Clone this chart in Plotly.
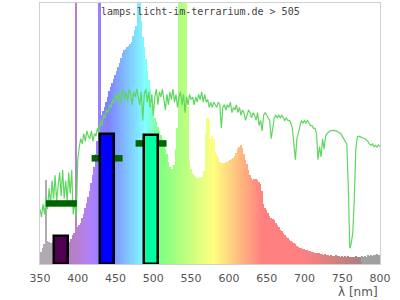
import plotly.graph_objects as go

# ---------------- data ----------------
wavelengths = list(range(350, 801, 2))

lamp_spectrum = [
    3.4, 4.5, 6, 7.5, 32, 9, 8.5, 8, 8, 8.5,            # 350-368
    8.5, 8.5, 8.5, 8.5, 8.5, 8.5, 8.5, 8.5, 8.5, 8.5,   # 370-388
    8.5, 9.5, 11, 12, 120, 14.3, 14.9, 15.8, 17.5, 19.3, # 390-408
    21.5, 23.5, 25.5, 28, 31, 34, 37, 42, 47, 120,      # 410-428
    120, 57, 58.8, 60, 62, 64, 66.3, 67.8, 69.3, 71,    # 430-448
    72.5, 74, 75.5, 77, 79, 81, 82, 82.5, 83, 83.5,     # 450-468
    84.3, 85.2, 87.5, 89.5, 91, 120, 120, 93, 87, 83,   # 470-488
    78.5, 74, 70.5, 67, 61, 58, 56, 54.5, 52.5, 51,     # 490-508
    49.5, 48, 46.5, 44, 42, 39, 37, 36.5, 36.4, 38,     # 510-528
    44, 52, 120, 120, 120, 120, 120, 120, 60, 40,       # 530-548
    36.5, 35, 34, 33.3, 33, 33, 33, 33.3, 33.5, 35.5,   # 550-568
    50, 56, 55, 48, 49, 48, 43, 41.8, 40.5, 39.2,       # 570-588
    38.8, 38.7, 38.8, 39, 39.2, 39.5, 39.8, 40.2, 40.6, 41.5,  # 590-608
    42.5, 44, 45, 45.5, 44.5, 42, 40, 38.5, 36, 34,     # 610-628
    33, 32.2, 32.4, 32.6, 32.2, 31.5, 30.5, 28, 23, 21.5,  # 630-648
    20.8, 19.5, 18.3, 17.5, 17.1, 16.7, 15.8, 15, 14, 13,  # 650-668
    12.5, 12, 11, 10.3, 9.8, 9.2, 8.7, 8.3, 8, 7.5,     # 670-688
    7, 6.6, 6.2, 6, 5.8, 5.6, 5.4, 5.3, 5.1, 4.9,       # 690-708
    4.7, 4.6, 4.4, 4.2, 4.1, 4.2, 3.8, 3.9, 3.5, 3.8,   # 710-728
    3.3, 3.6, 3.2, 3.5, 3.1, 3.0, 3.4, 2.9, 3.1, 2.8,   # 730-748
    3.2, 2.7, 3.0, 2.6, 2.9, 2.7, 2.5, 2.8, 2.6, 2.9,   # 750-768
    2.5, 2.8, 2.6, 3.0, 2.7, 3.1, 2.8, 3.3, 2.9, 3.4,   # 770-788
    3.0, 3.5, 3.3, 4.0, 3.5, 3.6,                       # 790-800
]

sun_spectrum = [
    21, 18, 23, 19, 26, 21, 29, 23, 32, 25,             # 350-368
    34, 24, 30, 35, 26, 36, 25, 32, 24, 35,             # 370-388
    27, 36, 19, 24, 18, 40, 45, 48, 46, 50,             # 390-408
    47, 51, 49, 48, 51, 47, 50, 49, 52, 50,             # 410-428
    55, 53, 57, 56, 59, 58, 61, 60, 63, 62,             # 430-448
    65, 63, 66, 61, 65, 67, 63, 66, 62, 67,             # 450-468
    65, 61, 66, 64, 67, 63, 61, 66, 55, 65,             # 470-488
    67, 62, 66, 60, 65, 57, 64, 67, 61, 66,             # 490-508
    64, 67, 62, 59, 65, 61, 66, 63, 67, 62,             # 510-528
    65, 60, 64, 66, 61, 65, 58, 64, 61, 65,             # 530-548
    63, 64, 61, 64, 62, 65, 63, 66, 62, 65,             # 550-568
    62, 63, 60, 62, 60, 62, 61, 60, 62, 61,             # 570-588
    52, 60, 61, 59, 61, 60, 62, 58, 60, 59,             # 590-608
    61, 58, 60, 57, 59, 58, 55, 57, 59, 58,             # 610-628
    56, 58, 57, 55, 58, 53, 55, 51, 57, 58,             # 630-648
    57, 56, 55, 48, 52, 56, 57, 56, 57, 56,             # 650-668
    57, 56, 55, 56, 55, 55, 54, 52, 45, 40,             # 670-688
    48, 50, 52, 55, 54, 55, 54, 55, 54, 53,             # 690-708
    53, 52, 52, 50, 40, 45, 41, 48, 44, 49,             # 710-728
    50, 50.5, 51, 51, 51.3, 51, 51, 50.7, 50.5, 50,     # 730-748
    49, 48, 47, 46, 30, 6, 8, 12, 25, 44,               # 750-768
    48.7, 49, 48.7, 48.5, 48.3, 48, 47.5, 47, 46, 45.5, # 770-788
    46, 45, 45.5, 44.8, 45.6, 45,                       # 790-800
]

band_centers = [378.3, 438.8, 497.0]
band_values = [10.6, 50.0, 49.6]
band_colors = ["#500050", "#0000ff", "#00ffa0"]
marker_values = [23.2, 40.5, 46.2]

tick_values = [350, 400, 450, 500, 550, 600, 650, 700, 750, 800]
tick_labels = ["350", "400", "450", "500", "550", "600", "650", "700", "750", "800"]

title_text = "lamps.licht-im-terrarium.de &gt; 505"
axis_title = "λ [nm]"

# ---------------- styling helpers ----------------
def wl_color(w):
    if w < 380:
        return "rgb(178,170,178)"
    if w >= 776:
        return "rgb(160,160,160)"
    if w < 440:
        r, g, b = (440 - w) / 60, 0, 1
    elif w < 490:
        r, g, b = 0, (w - 440) / 50, 1
    elif w < 510:
        r, g, b = 0, 1, (510 - w) / 20
    elif w < 580:
        r, g, b = (w - 510) / 70, 1, 0
    elif w < 645:
        r, g, b = 1, (645 - w) / 65, 0
    else:
        r, g, b = 1, 0, 0
    if w < 420:
        f = 0.3 + 0.7 * (w - 380) / 40
    elif w > 700:
        f = 0.3 + 0.7 * (780 - w) / 80
    else:
        f = 1.0
    return "rgb(%d,%d,%d)" % tuple(round(255 * (0.5 + 0.5 * c * f)) for c in (r, g, b))

spec_colors = [wl_color(w) for w in wavelengths]
HALF = 20.5  # half-length of the horizontal markers (nm)

fig = go.Figure()

fig.add_trace(go.Bar(
    x=wavelengths, y=lamp_spectrum, width=2.1,
    marker=dict(color=spec_colors, line=dict(width=0)),
    showlegend=False, hoverinfo="skip",
))

fig.add_trace(go.Scatter(
    x=wavelengths, y=sun_spectrum, mode="lines",
    line=dict(color="#5fd75f", width=1.2),
    showlegend=False, hoverinfo="skip",
))

for c, v in zip(band_centers, marker_values):
    fig.add_trace(go.Scatter(
        x=[c - HALF, c + HALF], y=[v, v], mode="lines",
        line=dict(color="#006400", width=6.5),
        showlegend=False, hoverinfo="skip",
    ))

fig.add_trace(go.Bar(
    x=band_centers, y=band_values, width=18.5,
    marker=dict(color=band_colors, line=dict(color="#000000", width=2.5)),
    xaxis="x2", yaxis="y2",
    showlegend=False, hoverinfo="skip",
))

fig.update_layout(
    width=400, height=300,
    margin=dict(l=40, r=20, t=3, b=36),
    paper_bgcolor="white", plot_bgcolor="white",
    bargap=0,
    xaxis=dict(
        range=[350, 800], tickvals=tick_values, ticktext=tick_labels,
        showgrid=False, zeroline=False,
        showline=True, mirror=True, linecolor="#d0d0d0", linewidth=1,
        ticks="outside", ticklen=4, tickcolor="rgba(0,0,0,0)",
        tickfont=dict(family="DejaVu Sans", size=11, color="#555555"),
    ),
    yaxis=dict(
        range=[0, 100], showgrid=False, zeroline=False, showticklabels=False,
        showline=True, mirror=True, linecolor="#d0d0d0", linewidth=1,
    ),
    xaxis2=dict(overlaying="x", matches="x", visible=False, range=[350, 800]),
    yaxis2=dict(overlaying="y", matches="y", visible=False, range=[0, 100]),
    annotations=[
        dict(text=title_text, x=(200.5 - 40) / 340, y=(264 - 11.5) / 261,
             xref="paper", yref="paper", xanchor="center", yanchor="middle",
             showarrow=False,
             font=dict(family="DejaVu Sans Mono", size=10, color="#444444")),
        dict(text=axis_title, x=1, y=(264 - 292) / 261,
             xref="paper", yref="paper", xanchor="right", yanchor="middle",
             showarrow=False,
             font=dict(family="DejaVu Sans", size=12, color="#555555")),
    ],
)

fig.write_html("out.html")
